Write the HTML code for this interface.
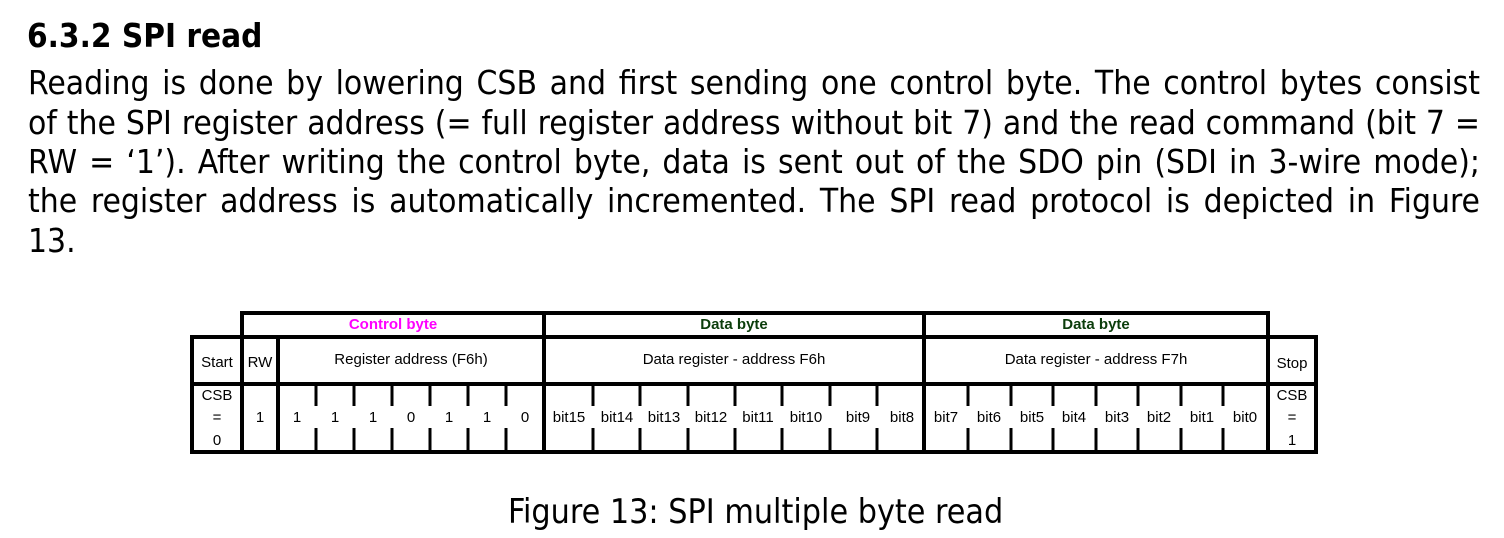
<!DOCTYPE html>
<html><head><meta charset="utf-8"><style>
body{margin:0;width:1504px;height:538px;background:#fff;position:relative;overflow:hidden;font-family:"DejaVu Sans Condensed","DejaVu Sans",sans-serif;color:#000}
.h{position:absolute;left:27px;top:16px;font-size:33px;font-weight:bold;white-space:nowrap;font-stretch:condensed}
.p{position:absolute;left:28px;width:1452px;font-size:33.3px;white-space:nowrap}
.j{text-align:justify;text-align-last:justify}
.c{position:absolute;left:508px;top:492px;font-size:33.7px;white-space:nowrap}
svg{position:absolute;left:0;top:0}
</style></head><body>
<div class="h">6.3.2 SPI read</div>
<div class="p j" style="top:63px">Reading is done by lowering CSB and first sending one control byte. The control bytes consist</div>
<div class="p j" style="top:103px">of the SPI register address (= full register address without bit 7) and the read command (bit 7 =</div>
<div class="p j" style="top:142px">RW = ‘1’). After writing the control byte, data is sent out of the SDO pin (SDI in 3-wire mode);</div>
<div class="p j" style="top:181px">the register address is automatically incremented. The SPI read protocol is depicted in Figure</div>
<div class="p" style="top:221px">13.</div>
<svg width="1504" height="538" font-family="Liberation Sans, Arial, sans-serif" font-size="15">
<g fill="#000">
<rect x="240" y="311" width="1030" height="4"/>
<rect x="190" y="335" width="1128" height="4"/>
<rect x="190" y="382" width="1128" height="4"/>
<rect x="190" y="450" width="1128" height="4"/>
<rect x="190" y="335" width="4" height="119"/>
<rect x="240" y="311" width="4" height="143"/>
<rect x="276" y="335" width="4" height="119"/>
<rect x="542" y="311" width="4" height="143"/>
<rect x="922" y="311" width="4" height="143"/>
<rect x="1266" y="311" width="4" height="143"/>
<rect x="1314" y="335" width="4" height="119"/>
</g>
<g stroke="#000" stroke-width="3">
<path d="M316 386V406M316 428V450M354 386V406M354 428V450M392 386V406M392 428V450M430 386V406M430 428V450M468 386V406M468 428V450M506 386V406M506 428V450"/>
<path d="M593 386V406M593 428V450M640 386V406M640 428V450M688 386V406M688 428V450M735 386V406M735 428V450M782 386V406M782 428V450M830 386V406M830 428V450M877 386V406M877 428V450"/>
<path d="M968 386V406M968 428V450M1011 386V406M1011 428V450M1053 386V406M1053 428V450M1096 386V406M1096 428V450M1138 386V406M1138 428V450M1181 386V406M1181 428V450M1223 386V406M1223 428V450"/>
</g>
<g text-anchor="middle">
<text x="393" y="329" fill="#ff00ff" font-weight="bold">Control byte</text>
<text x="734" y="329" fill="#0b3d0b" font-weight="bold">Data byte</text>
<text x="1096" y="329" fill="#0b3d0b" font-weight="bold">Data byte</text>
<text x="217" y="367">Start</text>
<text x="260" y="367">RW</text>
<text x="411" y="364">Register address (F6h)</text>
<text x="734" y="364">Data register - address F6h</text>
<text x="1096" y="364">Data register - address F7h</text>
<text x="1292" y="368">Stop</text>
<text x="217" y="400">CSB</text><text x="217" y="422">=</text><text x="217" y="445">0</text>
<text x="1292" y="400">CSB</text><text x="1292" y="422">=</text><text x="1292" y="445">1</text>
<text x="260" y="422">1</text>
<text x="297" y="422">1</text><text x="335" y="422">1</text><text x="373" y="422">1</text><text x="411" y="422">0</text><text x="449" y="422">1</text><text x="487" y="422">1</text><text x="525" y="422">0</text>
<text x="569" y="422">bit15</text><text x="617" y="422">bit14</text><text x="664" y="422">bit13</text><text x="711" y="422">bit12</text><text x="758" y="422">bit11</text><text x="806" y="422">bit10</text><text x="858" y="422">bit9</text><text x="902" y="422">bit8</text>
<text x="946" y="422">bit7</text><text x="989" y="422">bit6</text><text x="1032" y="422">bit5</text><text x="1074" y="422">bit4</text><text x="1117" y="422">bit3</text><text x="1159" y="422">bit2</text><text x="1202" y="422">bit1</text><text x="1245" y="422">bit0</text>
</g>
</svg>
<div class="c">Figure 13: SPI multiple byte read</div>
</body></html>
